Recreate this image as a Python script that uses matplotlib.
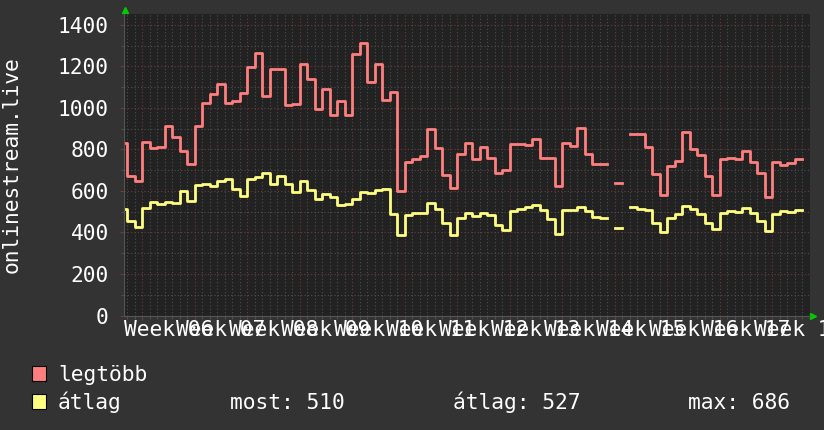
import numpy as np
import matplotlib
matplotlib.use("Agg")
import matplotlib.pyplot as plt
from matplotlib.patches import Rectangle

nan = np.nan

# napi értékek (legtöbb / átlag)
legtobb = [830, 671, 646, 835, 806, 811, 911, 859, 792, 728,
           911, 1025, 1065, 1117, 1023, 1033, 1073, 1197, 1264, 1055,
           1189, 1189, 1012, 1020, 1210, 1137, 993, 1091, 964, 1033,
           964, 1258, 1312, 1124, 1210, 1036, 1076, 599, 739, 752,
           768, 898, 806, 675, 612, 779, 830, 753, 811, 757,
           688, 699, 826, 826, 821, 850, 758, 758, 622, 830,
           816, 901, 779, 731, 731, nan, 640, nan, 874, 874,
           810, 681, 578, 718, 742, 884, 800, 774, 671, 578,
           753, 757, 753, 792, 737, 686, 573, 737, 723, 736,
           753]
atlag = [511, 453, 426, 519, 545, 538, 546, 541, 599, 551,
         628, 633, 625, 647, 655, 607, 577, 657, 667, 686,
         631, 670, 631, 593, 646, 602, 559, 583, 570, 533,
         538, 562, 593, 590, 606, 609, 490, 386, 485, 496,
         496, 541, 512, 447, 390, 471, 493, 479, 493, 482,
         435, 410, 503, 514, 522, 533, 506, 463, 394, 506,
         506, 522, 503, 474, 469, nan, 421, nan, 522, 514,
         506, 445, 400, 469, 490, 525, 514, 490, 445, 418,
         495, 503, 498, 517, 495, 455, 406, 490, 504, 498,
         510]
weeks = ["Week %02d" % w for w in range(6, 19)]
legend_labels = ["legtöbb", "átlag"]
stats = ["most: 510", "átlag: 527", "max: 686"]
title = "onlinestream.live"

FONT = "DejaVu Sans Mono"
FS = 15.3
W, H = 824, 430

BG = "#333333"
PLOT_BG = "#222222"
RED = "#ff7f7f"
YEL = "#ffff80"
MINOR = "#4e4e4e"
MAJOR = "#6e3a3a"
TXT = "#ffffff"

phase = 0.3   # nap-határ eltolás
edges = np.r_[0, np.arange(len(legtobb)) + phase]

fig = plt.figure(figsize=(W / 100, H / 100), dpi=100, facecolor=BG)
ax = fig.add_axes([124 / W, 1 - 315.5 / H, 686 / W, 301.5 / H], facecolor=PLOT_BG)

# rács
ax.set_xlim(-0.13, 91.33)
ax.set_ylim(0, 1452)
ax.set_yticks(range(0, 1401, 200))
ax.set_yticks(range(100, 1401, 200), minor=True)
major_x = 2 + phase + 7 * np.arange(len(weeks))
ax.set_xticks(major_x)
ax.set_xticks(np.arange(0, 92) + phase, minor=True)
ax.grid(which="minor", color=MINOR, lw=0.8, ls=(0, (1, 2)))
ax.grid(which="major", color=MAJOR, lw=0.8, ls=(0, (1, 2)))
ax.set_axisbelow(True)

ax.step(edges, np.append(legtobb, legtobb[-1]), where="post", color=RED, lw=2.0)
ax.step(edges, np.append(atlag, atlag[-1]), where="post", color=YEL, lw=2.0)

for s in ["top", "right"]:
    ax.spines[s].set_visible(False)
for s in ["left", "bottom"]:
    ax.spines[s].set_color("#555555")
    ax.spines[s].set_linewidth(0.8)

ax.tick_params(which="major", length=3, color=MAJOR, width=0.8)
ax.tick_params(which="minor", length=2, color=MINOR, width=0.8)
ax.tick_params(axis="x", labelbottom=False)
ax.tick_params(axis="y", labelcolor=TXT, labelsize=FS, pad=8)
for lab in ax.get_yticklabels():
    lab.set_family(FONT)

# hét feliratok a hét közepére
for x, lab in zip(major_x + 3.5, weeks):
    ax.text(x, -0.015, lab, transform=ax.get_xaxis_transform(), ha="center", va="top",
            color=TXT, fontsize=FS, family=FONT, clip_on=False)

# zöld nyilak
ax.plot([0.002], [1.013], marker="^", ms=5, color="#00cc00", transform=ax.transAxes, clip_on=False)
ax.plot([1.005], [0.0], marker=">", ms=5, color="#00cc00", transform=ax.transAxes, clip_on=False)

fig.text(12 / W, 1 - 165 / H, title, rotation=90, ha="center", va="center",
         color=TXT, fontsize=FS, family=FONT)

# jelmagyarázat
for i, (lab, col) in enumerate(zip(legend_labels, [RED, YEL])):
    top = 366 + 28 * i
    fig.add_artist(Rectangle((32 / W, 1 - (top + 15) / H), 14 / W, 15 / H,
                             transform=fig.transFigure, facecolor=col, edgecolor="black", lw=0.8))
    fig.text(58 / W, 1 - (top + 15) / H, lab, ha="left", va="baseline",
             color=TXT, fontsize=FS, family=FONT)
for x, s in zip([230, 453, 688], stats):
    fig.text(x / W, 1 - (366 + 28 + 15) / H, s, ha="left", va="baseline",
             color=TXT, fontsize=FS, family=FONT)

fig.savefig("out.png", dpi=100, facecolor=BG)
